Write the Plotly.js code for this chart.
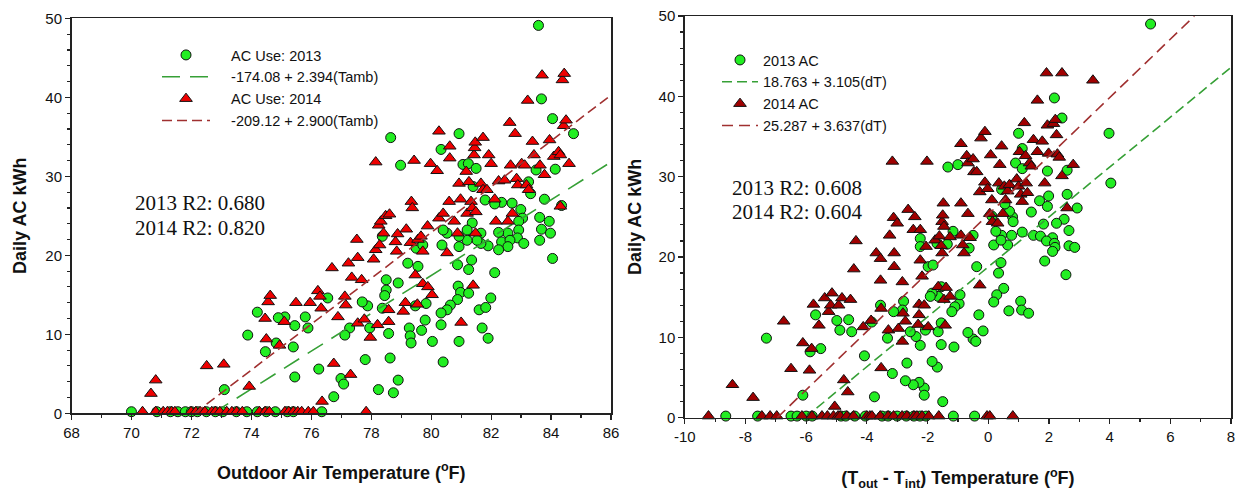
<!DOCTYPE html>
<html>
<head>
<meta charset="utf-8">
<script src="https://cdn.plot.ly/plotly-3.0.1.min.js"></script>
<style>html,body{margin:0;padding:0;background:#fff}#chart{width:1241px;height:491px}</style>
</head>
<body>
<div id="chart"></div>
<script>
// ---------- Left panel: Outdoor air temperature (F) vs daily AC kWh ----------
const amb13x = [83.58,83.68,84.05,84.75,80.93,78.65,80.33,78.98,81.06,81.24,81.5,83.5,84.14,83.25,83.32,83.78,81.8,82.35,82.7,82.99,82.12,83.05,83.62,83.94,84.35,83.68,83.98,83.62,84.05,82.92,82.92,82.88,83.09,82.56,82.25,82.35,82.63,82.56,82.25,81.9,81.66,81.66,81.37,81.53,81.2,81.2,80.93,80.93,80.53,80.4,80.36,81.4,80.88,81.35,81.25,80.9,80.98,81.25,80.88,80.64,80.53,80.33,80.33,81.6,81.82,81.99,82.12,81.7,81.9,80.93,80.04,80.4,79.68,79.8,79.83,79.47,79.27,79.3,79.33,79.56,79.66,79.5,79.72,79.22,78.9,78.5,78.5,78.45,78.37,78.58,78.63,78.74,78.24,78.9,77.8,77.95,77.88,77.7,77.28,77.12,76.99,77.08,76.75,76.25,76.55,75.89,75.8,75.45,75.45,75.4,75.12,74.9,74.83,74.47,74.2,73.88,73.1,78.37,
  70.0,70.85,71.3,71.55,71.8,72.0,72.2,72.5,72.8,73.05,73.5,73.85,74.2,74.5,74.8,75.2,75.4,76.35];
const amb13y = [49.1,39.8,37.3,35.4,35.4,34.9,33.4,31.4,31.5,31.6,31.0,30.8,30.9,29.3,27.8,27.1,27.0,26.7,26.6,25.8,26.5,24.7,24.8,24.3,26.3,23.3,22.8,21.9,19.6,24.3,23.2,22.2,21.5,22.8,22.9,21.7,21.9,21.1,20.7,21.2,21.5,22.8,24.1,21.9,23.2,21.9,21.1,22.4,22.8,23.2,21.3,28.7,18.8,19.4,18.2,16.1,15.3,15.2,14.4,13.7,13.1,12.7,11.2,13.1,13.4,14.6,17.8,10.8,9.5,9.1,9.1,6.5,10.5,11.8,13.9,13.6,10.8,9.8,8.9,18.6,21.1,20.9,21.3,19.0,16.5,16.9,15.6,14.9,13.3,10.1,7.0,2.6,3.0,4.2,6.8,10.8,13.6,14.1,10.8,9.9,4.4,3.7,2.1,5.6,14.6,10.8,12.2,11.1,4.6,8.4,12.2,12.1,8.9,7.8,12.8,9.9,3.0,22.4,
  0.2,0.2,0.2,0.2,0.2,0.2,0.2,0.2,0.2,0.2,0.2,0.2,0.2,0.2,0.2,0.2,0.2,0.2];
const amb14x = [70.65,70.81,72.51,73.08,73.93,74.5,74.94,74.46,74.56,74.63,75.1,75.49,75.96,76.22,76.29,76.33,76.36,76.69,76.89,76.75,77.12,77.15,77.24,77.35,77.31,77.52,77.55,77.55,77.68,77.77,77.97,78.15,78.08,78.15,78.21,78.28,78.25,78.32,78.41,78.48,78.61,78.58,78.58,78.81,78.85,78.88,79.07,79.14,79.17,79.31,79.34,79.37,79.43,79.47,79.54,79.56,79.66,79.72,79.72,79.89,79.88,79.98,80.03,80.2,80.26,80.26,80.4,80.53,80.6,80.62,80.62,80.77,80.88,80.93,80.98,81.0,81.17,81.2,81.26,81.33,81.37,81.4,81.43,81.45,81.47,81.48,81.49,81.66,81.73,81.73,81.86,81.92,82.0,82.12,82.16,82.25,82.45,82.56,82.62,82.65,82.71,82.8,82.85,82.89,83.02,83.12,83.18,83.22,83.25,83.38,83.43,83.63,83.7,83.78,83.95,84.09,84.25,84.31,84.38,84.44,84.42,84.5,84.6,84.31,
  70.37,70.81,71.06,71.2,71.34,71.45,71.99,72.15,72.29,72.45,72.68,72.8,72.95,73.18,73.35,73.51,73.7,74.27,74.46,74.6,75.12,75.25,75.4,75.55,75.68,75.9,76.07,77.83];
const amb14y = [2.5,4.2,6.0,6.2,3.4,9.4,8.6,12.0,14.1,14.9,11.6,14.0,14.0,15.5,14.8,13.3,1.5,18.4,12.2,6.3,14.8,13.7,19.0,17.2,4.9,22.0,19.7,11.4,16.9,11.9,9.6,31.8,19.5,20.7,11.2,21.3,23.8,24.3,22.8,25.0,25.2,13.1,11.6,21.7,20.5,22.7,12.9,14.0,23.3,21.6,26.8,26.0,32.0,17.5,13.8,22.0,22.4,20.5,16.4,16.0,23.7,31.6,15.0,30.7,24.7,35.7,25.3,20.3,26.8,33.8,32.3,24.3,22.8,29.1,27.1,11.5,30.6,25.3,29.3,26.8,26.0,16.2,32.7,33.6,34.3,22.8,25.5,29.1,34.9,28.3,28.3,32.7,31.6,27.1,24.3,29.4,29.5,24.3,36.8,31.4,25.3,35.4,29.7,28.9,31.6,31.4,28.9,39.6,28.3,34.4,32.7,31.4,42.8,30.2,34.6,32.5,33.1,32.7,42.2,43.0,36.4,37.1,31.6,26.2,
  0.2,0.2,0.2,0.2,0.2,0.2,0.2,0.2,0.2,0.2,0.2,0.2,0.2,0.2,0.2,0.2,0.2,0.2,0.2,0.2,0.2,0.2,0.2,0.2,0.2,0.2,0.2,0.2];

// ---------- Right panel: (Tout - Tint) vs daily AC kWh ----------
const dT13x = [5.35,2.18,2.43,3.98,4.04,1.0,0.9,1.12,1.12,1.95,1.99,2.6,2.6,2.93,1.69,1.95,1.42,2.5,2.25,1.82,2.66,1.49,1.72,2.12,1.92,2.18,2.2,2.12,2.66,2.85,1.86,2.56,1.12,0.77,0.44,0.64,0.25,0.18,0.42,0.8,0.82,0.7,0.55,0.44,0.42,0.34,0.51,0.28,0.18,1.07,1.1,1.33,0.68,0.12,-0.38,-0.31,-0.17,-0.5,-0.41,-0.67,-0.5,-0.63,-0.96,-0.93,-1.1,-1.2,-1.13,-1.16,-1.0,-1.33,-1.35,-1.69,-1.55,-1.65,-1.55,-1.65,-1.55,-1.5,-1.68,-1.85,-1.85,-1.91,-1.98,-1.82,-2.24,-2.24,-2.07,-2.24,-2.38,-2.11,-2.11,-2.28,-2.47,-2.73,-2.57,-2.68,-2.79,-2.83,-3.12,-3.32,-3.16,-3.55,-3.75,-4.08,-3.84,-4.5,-4.6,-4.89,-4.99,-5.52,-5.87,-5.69,-6.11,-7.31,
  -8.65,-7.6,-6.5,-6.3,-6.0,-5.8,-4.85,-4.7,-4.4,-4.05,-3.5,-3.3,-3.0,-2.7,-2.45,-2.25,-2.05,-1.15,-0.45];
const dT13y = [49.0,39.8,37.3,35.4,29.2,35.4,31.7,31.0,33.5,30.7,27.6,27.8,30.8,26.1,27.0,26.3,25.6,24.7,24.2,24.1,23.3,22.7,22.6,22.4,22.0,21.7,21.2,20.7,21.4,21.2,19.5,17.8,23.1,22.7,22.7,21.5,23.2,21.5,22.1,25.0,24.4,25.7,26.6,28.4,19.3,18.0,16.1,15.3,14.4,14.5,13.4,13.0,13.3,25.1,18.8,12.8,10.8,9.8,9.5,10.6,22.7,21.1,14.2,15.3,13.8,13.2,8.8,23.2,31.5,31.2,21.6,21.7,16.3,15.1,11.8,10.7,9.1,2.0,6.3,7.0,15.5,15.1,18.8,19.0,22.3,21.3,10.9,9.0,10.1,3.7,2.8,4.4,4.1,4.6,10.7,6.8,14.5,13.4,13.2,9.9,5.5,14.0,2.6,7.7,11.9,10.7,12.2,10.9,12.1,8.6,8.2,12.8,2.8,9.9,
  0.2,0.2,0.2,0.2,0.2,0.2,0.2,0.2,0.2,0.2,0.2,0.2,0.2,0.2,0.2,0.2,0.2,0.2,0.2];
const dT14x = [-8.43,-7.75,-6.74,-6.5,-6.11,-5.89,-5.82,-5.76,-5.58,-5.39,-5.26,-5.19,-5.15,-5.06,-4.93,-4.82,-4.76,-4.63,-4.54,-4.43,-4.36,-4.12,-3.86,-3.69,-3.55,-3.55,-3.53,-3.53,-3.29,-3.25,-3.16,-3.12,-3.1,-3.1,-3.0,-2.96,-2.83,-2.83,-2.81,-2.73,-2.64,-2.47,-2.42,-2.31,-2.28,-2.28,-2.24,-2.24,-2.18,-2.11,-2.05,-2.02,-1.98,-1.75,-1.65,-1.61,-1.55,-1.52,-1.5,-1.48,-1.52,-1.46,-1.46,-1.42,-1.39,-1.26,-1.26,-0.9,-0.9,-0.9,-0.84,-0.8,-0.71,-0.67,-0.67,-0.6,-0.5,-0.47,-0.38,-0.28,-0.28,-0.24,-0.11,-0.11,-0.02,0.05,0.08,0.12,0.14,0.31,0.35,0.38,0.44,0.48,0.53,0.57,0.64,0.7,0.94,1.0,1.03,1.07,1.12,1.19,1.23,1.25,1.29,1.36,1.42,1.49,1.62,1.62,1.78,1.86,1.92,1.95,1.99,2.15,2.21,2.25,2.28,2.34,2.43,2.43,2.6,2.8,3.45,
  -9.22,-7.46,-7.19,-6.97,-6.14,-5.81,-5.48,-5.3,-5.1,-4.95,-4.88,-4.66,-4.44,-4.0,-3.9,-3.83,-3.56,-3.3,-3.12,-2.84,-2.68,-2.45,-2.35,-2.18,-1.96,-1.63,-0.04,0.05,0.81];
const dT14y = [4.1,2.5,12.0,6.1,9.3,5.9,8.6,14.1,11.5,14.9,13.2,14.0,15.5,1.4,14.0,14.9,4.7,3.2,14.7,18.5,22.0,11.3,12.1,20.5,19.8,17.1,13.6,6.2,10.9,22.7,31.9,24.9,20.5,18.8,24.2,11.1,16.9,9.5,13.0,12.0,25.9,23.4,25.0,11.6,12.8,14.1,23.4,19.6,17.6,14.0,21.3,31.9,11.3,22.1,16.3,22.6,21.4,24.4,25.2,26.7,20.5,23.8,14.7,11.5,16.2,22.5,15.1,34.1,26.7,22.7,21.5,20.5,32.6,31.7,25.4,22.4,32.2,30.6,30.6,28.1,16.5,34.8,35.6,29.3,28.5,25.4,32.7,27.1,24.4,24.2,29.2,31.5,33.8,25.4,28.8,27.1,28.2,29.0,29.7,28.8,33.1,27.8,26.9,36.7,32.6,29.2,28.0,31.7,31.3,34.6,39.5,33.1,34.4,29.2,42.9,36.4,32.9,36.6,37.1,35.2,32.8,32.4,42.9,30.1,26.1,31.5,42.0,
  0.2,0.2,0.2,0.2,0.2,0.2,0.2,0.2,0.2,0.2,0.2,0.2,0.2,0.2,0.2,0.2,0.2,0.2,0.2,0.2,0.2,0.2,0.2,0.2,0.2,0.2,0.2,0.2,0.2];

// Regression fits as given in the legends: [intercept, slope, xStart, xEnd]
const fitAmb13 = [-174.08, 2.394, 72.72, 86];
const fitAmb14 = [-209.12, 2.900, 72.11, 86];
const fitDT13  = [18.763, 3.105, -6.04, 8];
const fitDT14  = [25.287, 3.637, -6.95, 6.79];

// Tick values and labels
const ambTickVals = [68,70,72,74,76,78,80,82,84,86];
const ambTickText = ['68','70','72','74','76','78','80','82','84','86'];
const dTTickVals = [-10,-8,-6,-4,-2,0,2,4,6,8];
const dTTickText = ['-10','-8','-6','-4','-2','0','2','4','6','8'];
const kWhTickVals = [0,10,20,30,40,50];
const kWhTickText = ['0','10','20','30','40','50'];

const legendLabels = ['AC Use: 2013', '-174.08 + 2.394(Tamb)', 'AC Use: 2014', '-209.12 + 2.900(Tamb)'];
const legendLabels2 = ['2013 AC', '18.763 + 3.105(dT)', '2014 AC', '25.287 + 3.637(dT)'];
const r2Left = ['2013 R2: 0.680', '2014 R2: 0.820'];
const r2Right = ['2013 R2: 0.608', '2014 R2: 0.604'];

function fitLine(f){ return {x:[f[2], f[3]], y:[f[0]+f[1]*f[2], f[0]+f[1]*f[3]]}; }
const pad = s => '\u00a0\u00a0\u00a0\u00a0' + s;

const GREEN = '#22ee22', RED = '#ee0000', DARKRED = '#a00000';
const LGREEN = '#36a036', LRED = '#a03030';
const circ = {symbol:'circle', size:10, color:GREEN, line:{color:'#111', width:1}};

const traces = [
  {type:'scatter', mode:'markers', x:amb13x, y:amb13y, name:pad(legendLabels[0]), marker:circ, cliponaxis:false, xaxis:'x', yaxis:'y', legend:'legend'},
  Object.assign({type:'scatter', mode:'lines', name:pad(legendLabels[1]), line:{color:LGREEN, width:1.6, dash:'18px,10px'}, xaxis:'x', yaxis:'y', legend:'legend'}, fitLine(fitAmb13)),
  {type:'scatter', mode:'markers', x:amb14x, y:amb14y, name:pad(legendLabels[2]), marker:{symbol:'triangle-up', size:11, color:RED, line:{color:'#111', width:1}}, cliponaxis:false, xaxis:'x', yaxis:'y', legend:'legend'},
  Object.assign({type:'scatter', mode:'lines', name:pad(legendLabels[3]), line:{color:LRED, width:1.6, dash:'10px,5px'}, xaxis:'x', yaxis:'y', legend:'legend'}, fitLine(fitAmb14)),

  {type:'scatter', mode:'markers', x:dT13x, y:dT13y, name:legendLabels2[0], marker:circ, cliponaxis:false, xaxis:'x2', yaxis:'y2', legend:'legend2'},
  Object.assign({type:'scatter', mode:'lines', name:legendLabels2[1], line:{color:LGREEN, width:1.6, dash:'10px,5px'}, xaxis:'x2', yaxis:'y2', legend:'legend2'}, fitLine(fitDT13)),
  {type:'scatter', mode:'markers', x:dT14x, y:dT14y, name:legendLabels2[2], marker:{symbol:'triangle-up', size:11, color:DARKRED, line:{color:'#111', width:1}}, cliponaxis:false, xaxis:'x2', yaxis:'y2', legend:'legend2'},
  Object.assign({type:'scatter', mode:'lines', name:legendLabels2[3], line:{color:LRED, width:1.6, dash:'11px,6px'}, xaxis:'x2', yaxis:'y2', legend:'legend2'}, fitLine(fitDT14))
];

const W = 1241, H = 491;
const axCommon = {
  showline:true, mirror:true, linecolor:'#222', linewidth:1.5, showgrid:false, zeroline:false,
  ticks:'outside', ticklen:5, tickwidth:1.2, tickcolor:'#222', tickmode:'array',
  tickfont:{family:'Liberation Sans, Arial, sans-serif', size:15, color:'#111'},
  fixedrange:true
};
const titleFont = {family:'Liberation Sans, Arial, sans-serif', size:18, color:'#111', weight:'bold'};
const legFont = {family:'Liberation Sans, Arial, sans-serif', size:14.5, color:'#111'};

const layout = {
  width:W, height:H, margin:{l:0, r:0, t:0, b:0}, paper_bgcolor:'#fff', plot_bgcolor:'#fff',
  font:{family:'Liberation Sans, Arial, sans-serif', color:'#111'},
  xaxis: Object.assign({}, axCommon, {domain:[71.5/W, 611/W], range:[68,86], tickvals:ambTickVals, ticktext:ambTickText,
     minor:{dtick:1, tick0:68, ticks:'outside', ticklen:3, tickcolor:'#222'}, anchor:'y',
     title:{text:'Outdoor Air Temperature (<sup>o</sup>F)', font:titleFont, standoff:26}}),
  yaxis: Object.assign({}, axCommon, {domain:[1-413.3/H, 1-18.3/H], range:[0,50], tickvals:kWhTickVals, ticktext:kWhTickText,
     minor:{dtick:2, tick0:0, ticks:'outside', ticklen:3, tickcolor:'#222'}, anchor:'x',
     title:{text:'Daily AC kWh', font:titleFont, standoff:14}}),
  xaxis2: Object.assign({}, axCommon, {domain:[684.8/W, 1231/W], range:[-10,8], tickvals:dTTickVals, ticktext:dTTickText,
     minor:{dtick:1, tick0:-10, ticks:'outside', ticklen:3, tickcolor:'#222'}, anchor:'y2',
     title:{text:'(T<sub>out</sub> - T<sub>int</sub>) Temperature (<sup>o</sup>F)', font:titleFont, standoff:28}}),
  yaxis2: Object.assign({}, axCommon, {domain:[1-417.7/H, 1-16/H], range:[0,50], tickvals:kWhTickVals, ticktext:kWhTickText,
     minor:{dtick:2, tick0:0, ticks:'outside', ticklen:3, tickcolor:'#222'}, anchor:'x2',
     title:{text:'Daily AC kWh', font:titleFont, standoff:12}}),
  showlegend:true,
  legend:{x:157/W, y:1-39/H, xanchor:'left', yanchor:'top', bgcolor:'rgba(0,0,0,0)', borderwidth:0,
     font:legFont, itemwidth:48, tracegroupgap:0, traceorder:'normal'},
  legend2:{x:717/W, y:1-44/H, xanchor:'left', yanchor:'top', bgcolor:'rgba(0,0,0,0)', borderwidth:0,
     font:legFont, itemwidth:36, tracegroupgap:0, traceorder:'normal'},
  annotations:[
    {xref:'paper', yref:'paper', x:133/W, y:1-203/H, xanchor:'left', yanchor:'middle', showarrow:false, text:r2Left[0], font:{family:'Liberation Serif, Times New Roman, serif', size:21, color:'#111'}},
    {xref:'paper', yref:'paper', x:133/W, y:1-228/H, xanchor:'left', yanchor:'middle', showarrow:false, text:r2Left[1], font:{family:'Liberation Serif, Times New Roman, serif', size:21, color:'#111'}},
    {xref:'paper', yref:'paper', x:730/W, y:1-188/H, xanchor:'left', yanchor:'middle', showarrow:false, text:r2Right[0], font:{family:'Liberation Serif, Times New Roman, serif', size:21, color:'#111'}},
    {xref:'paper', yref:'paper', x:730/W, y:1-212/H, xanchor:'left', yanchor:'middle', showarrow:false, text:r2Right[1], font:{family:'Liberation Serif, Times New Roman, serif', size:21, color:'#111'}}
  ]
};

Plotly.newPlot('chart', traces, layout, {displayModeBar:false, staticPlot:true});
</script>
</body>
</html>
